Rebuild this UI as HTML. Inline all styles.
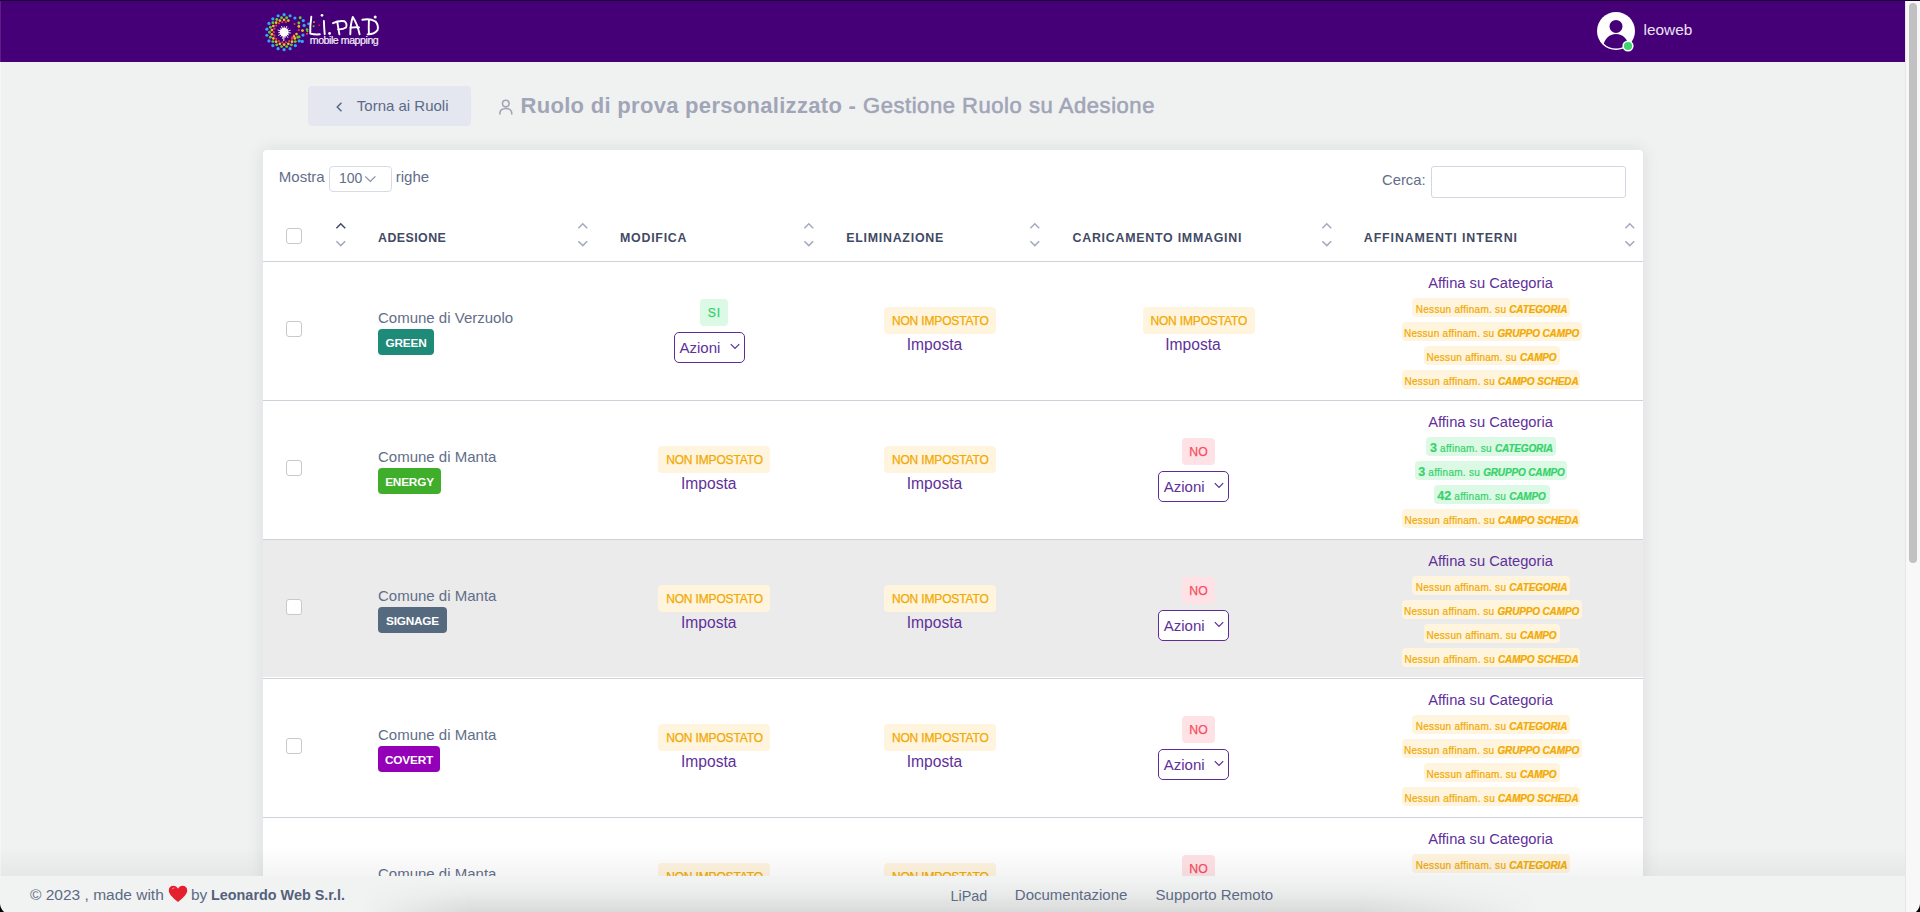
<!DOCTYPE html>
<html><head><meta charset="utf-8"><title>LiPad</title>
<style>
html,body{margin:0;padding:0;width:1920px;height:912px;overflow:hidden;background:#f0f2f1;font-family:"Liberation Sans", sans-serif;}
.t{position:absolute;white-space:nowrap;}
.r{position:absolute;box-sizing:border-box;}
svg{position:absolute;}
</style></head><body>

<div class="r" style="left:0px;top:0px;width:1905px;height:62px;background:#450078;border-radius:0px;"></div>
<div class="r" style="left:0px;top:0px;width:1905px;height:1px;background:#1e0038;border-radius:0px;"></div>
<svg style="left:0;top:0" width="400" height="62" viewBox="0 0 400 62"><circle cx="293.78" cy="35.72" r="1.1" fill="#ee3d3d"/><circle cx="291.99" cy="38.82" r="1.1" fill="#ee3d3d"/><circle cx="289.25" cy="41.12" r="1.1" fill="#ee3d3d"/><circle cx="285.89" cy="42.34" r="1.1" fill="#ee3d3d"/><circle cx="282.31" cy="42.34" r="1.1" fill="#ee3d3d"/><circle cx="278.95" cy="41.12" r="1.1" fill="#ee3d3d"/><circle cx="276.21" cy="38.82" r="1.1" fill="#ee3d3d"/><circle cx="274.42" cy="35.72" r="1.1" fill="#ee3d3d"/><circle cx="273.80" cy="32.20" r="1.1" fill="#ee3d3d"/><circle cx="274.42" cy="28.68" r="1.1" fill="#ee3d3d"/><circle cx="276.21" cy="25.58" r="1.1" fill="#ee3d3d"/><circle cx="278.95" cy="23.28" r="1.1" fill="#ee3d3d"/><circle cx="282.31" cy="22.06" r="1.1" fill="#ee3d3d"/><circle cx="285.89" cy="22.06" r="1.1" fill="#ee3d3d"/><circle cx="294.84" cy="38.40" r="1.35" fill="#f2c11a"/><circle cx="292.07" cy="41.70" r="1.35" fill="#f2c11a"/><circle cx="288.34" cy="43.85" r="1.35" fill="#f2c11a"/><circle cx="284.10" cy="44.60" r="1.35" fill="#f2c11a"/><circle cx="279.86" cy="43.85" r="1.35" fill="#f2c11a"/><circle cx="276.13" cy="41.70" r="1.35" fill="#f2c11a"/><circle cx="273.36" cy="38.40" r="1.35" fill="#f2c11a"/><circle cx="271.89" cy="34.35" r="1.35" fill="#f2c11a"/><circle cx="271.89" cy="30.05" r="1.35" fill="#f2c11a"/><circle cx="273.36" cy="26.00" r="1.35" fill="#f2c11a"/><circle cx="276.13" cy="22.70" r="1.35" fill="#f2c11a"/><circle cx="279.86" cy="20.55" r="1.35" fill="#f2c11a"/><circle cx="284.10" cy="19.80" r="1.35" fill="#f2c11a"/><circle cx="288.34" cy="20.55" r="1.35" fill="#f2c11a"/><circle cx="297.82" cy="37.19" r="1.45" fill="#63cc2c"/><circle cx="295.28" cy="41.58" r="1.45" fill="#63cc2c"/><circle cx="291.40" cy="44.84" r="1.45" fill="#63cc2c"/><circle cx="286.64" cy="46.58" r="1.45" fill="#63cc2c"/><circle cx="281.56" cy="46.58" r="1.45" fill="#63cc2c"/><circle cx="276.80" cy="44.84" r="1.45" fill="#63cc2c"/><circle cx="272.92" cy="41.58" r="1.45" fill="#63cc2c"/><circle cx="270.38" cy="37.19" r="1.45" fill="#63cc2c"/><circle cx="269.50" cy="32.20" r="1.45" fill="#63cc2c"/><circle cx="270.38" cy="27.21" r="1.45" fill="#63cc2c"/><circle cx="272.92" cy="22.82" r="1.45" fill="#63cc2c"/><circle cx="276.80" cy="19.56" r="1.45" fill="#63cc2c"/><circle cx="281.56" cy="17.82" r="1.45" fill="#63cc2c"/><circle cx="286.64" cy="17.82" r="1.45" fill="#63cc2c"/><circle cx="299.26" cy="40.95" r="1.6" fill="#35a6f2"/><circle cx="295.35" cy="45.61" r="1.6" fill="#35a6f2"/><circle cx="290.09" cy="48.64" r="1.6" fill="#35a6f2"/><circle cx="284.10" cy="49.70" r="1.6" fill="#35a6f2"/><circle cx="278.11" cy="48.64" r="1.6" fill="#35a6f2"/><circle cx="272.85" cy="45.61" r="1.6" fill="#35a6f2"/><circle cx="268.94" cy="40.95" r="1.6" fill="#35a6f2"/><circle cx="266.87" cy="35.24" r="1.6" fill="#35a6f2"/><circle cx="266.87" cy="29.16" r="1.6" fill="#35a6f2"/><circle cx="268.94" cy="23.45" r="1.6" fill="#35a6f2"/><circle cx="272.85" cy="18.79" r="1.6" fill="#35a6f2"/><circle cx="278.11" cy="15.76" r="1.6" fill="#35a6f2"/><circle cx="284.10" cy="14.70" r="1.6" fill="#35a6f2"/><circle cx="290.09" cy="15.76" r="1.6" fill="#35a6f2"/><circle cx="298.8" cy="23.0" r="1.45" fill="#63cc2c"/><circle cx="300.2" cy="17.7" r="1.45" fill="#63cc2c"/><circle cx="307" cy="29.6" r="1.3" fill="#63cc2c"/><circle cx="299.1" cy="36.9" r="1.45" fill="#63cc2c"/><circle cx="298.8" cy="26.4" r="1.35" fill="#f2c11a"/><circle cx="302.5" cy="30.6" r="1.35" fill="#f2c11a"/><circle cx="296.5" cy="34.1" r="1.3" fill="#f2c11a"/><circle cx="294.1" cy="36.4" r="1.2" fill="#f2c11a"/><circle cx="298.8" cy="30.1" r="1.1" fill="#ee3d3d"/><circle cx="307" cy="33.8" r="1.1" fill="#ee3d3d"/><circle cx="294.5" cy="24.0" r="1.0" fill="#ee3d3d"/><circle cx="292.2" cy="37.3" r="1.0" fill="#ee3d3d"/><circle cx="303.3" cy="20.6" r="1.6" fill="#35a6f2"/><circle cx="304.1" cy="25.4" r="1.6" fill="#35a6f2"/><circle cx="303" cy="35.1" r="1.6" fill="#35a6f2"/><circle cx="302.3" cy="41.4" r="1.6" fill="#35a6f2"/><circle cx="308.6" cy="23.8" r="1.4" fill="#35a6f2"/><circle cx="294.9" cy="18" r="1.6" fill="#35a6f2"/><circle cx="314.0" cy="22.1" r="0.9" fill="#f2c11a"/><circle cx="313.6" cy="26.3" r="1.0" fill="#63cc2c"/><circle cx="307.4" cy="31.3" r="1.0" fill="#63cc2c"/><circle cx="319.2" cy="25.2" r="0.8" fill="#ee3d3d"/><line x1="284.10" y1="32.20" x2="290.85" y2="33.03" stroke="#fff" stroke-width="0.9"/><line x1="284.10" y1="32.20" x2="289.07" y2="35.19" stroke="#fff" stroke-width="0.9"/><line x1="284.10" y1="32.20" x2="288.00" y2="37.77" stroke="#fff" stroke-width="0.9"/><line x1="284.10" y1="32.20" x2="285.21" y2="37.89" stroke="#fff" stroke-width="0.9"/><line x1="284.10" y1="32.20" x2="282.57" y2="38.83" stroke="#fff" stroke-width="0.9"/><line x1="284.10" y1="32.20" x2="280.61" y2="36.83" stroke="#fff" stroke-width="0.9"/><line x1="284.10" y1="32.20" x2="278.15" y2="35.50" stroke="#fff" stroke-width="0.9"/><line x1="284.10" y1="32.20" x2="278.32" y2="32.71" stroke="#fff" stroke-width="0.9"/><line x1="284.10" y1="32.20" x2="277.67" y2="29.99" stroke="#fff" stroke-width="0.9"/><line x1="284.10" y1="32.20" x2="279.86" y2="28.24" stroke="#fff" stroke-width="0.9"/><line x1="284.10" y1="32.20" x2="281.44" y2="25.94" stroke="#fff" stroke-width="0.9"/><line x1="284.10" y1="32.20" x2="284.20" y2="26.40" stroke="#fff" stroke-width="0.9"/><line x1="284.10" y1="32.20" x2="286.97" y2="26.04" stroke="#fff" stroke-width="0.9"/><line x1="284.10" y1="32.20" x2="288.48" y2="28.39" stroke="#fff" stroke-width="0.9"/><line x1="284.10" y1="32.20" x2="290.60" y2="30.21" stroke="#fff" stroke-width="0.9"/><line x1="284.10" y1="32.20" x2="283.80" y2="41.00" stroke="#fff" stroke-width="1"/><circle cx="284.1" cy="32.2" r="4.4" fill="#fff"/><g stroke="#fff" stroke-width="1.9" fill="none" stroke-linecap="round" stroke-linejoin="round"><path d="M311.3 16.8 Q310 26 310.3 33.6 Q315 34.8 319.8 34.3"/><path d="M323.9 21 Q324.1 28 324.7 34.2"/><path d="M333 23.2 Q339 20.3 344.5 21.2 Q347.5 23.5 346 27.5 Q343 29.6 338.2 29.4"/><path d="M337.2 21.6 Q338.3 28 339.4 34.3"/><path d="M350.3 34.3 Q350.4 24 352.8 16.9 Q357.5 24 359.6 34.3"/><path d="M350.6 27.6 Q355 27.1 359 27.4"/><path d="M362.3 19.8 Q370 18.2 375.5 21.5 Q379 25.5 377.5 30.2 Q374 34.6 367.6 34.4"/><path d="M368.9 19.6 Q368.6 27 368.9 34.3"/></g><circle cx="322" cy="15.3" r="1.35" fill="#fff"/><circle cx="329.6" cy="33.5" r="1.4" fill="#fff"/><circle cx="375.2" cy="17" r="1.5" fill="#fff"/></svg>
<div class="t" style="left:309.80px;top:35.11px;font-size:10.6px;line-height:11.84px;color:#f3eefa;font-weight:400;font-style:normal;letter-spacing:-0.45px;-webkit-text-stroke:0.2px #f3eefa;">mobile mapping</div>
<svg style="left:1596px;top:11px" width="44" height="44" viewBox="0 0 44 44"><defs><clipPath id="cc"><circle cx="20" cy="20" r="17.6"/></clipPath></defs><circle cx="20" cy="20" r="19" fill="#fff"/><g clip-path="url(#cc)"><circle cx="20" cy="15.4" r="6.5" fill="#450078"/><ellipse cx="20" cy="35.5" rx="12.5" ry="12.5" fill="#450078"/></g><circle cx="32" cy="35" r="5.6" fill="#fff"/><circle cx="32" cy="35" r="4.1" fill="#3fd46b"/></svg>
<div class="t" style="left:1643.50px;top:20.96px;font-size:15.4px;line-height:17.20px;color:#ebe4f3;font-weight:400;font-style:normal;letter-spacing:0px;">leoweb</div>
<div class="r" style="left:308px;top:86px;width:163px;height:40px;background:#e4e7ef;border-radius:4px;"></div>
<svg style="left:332px;top:100px" width="14" height="14" viewBox="0 0 14 14"><path d="M9 3.2 L5.2 7 L9 10.8" stroke="#5b6a88" stroke-width="1.6" fill="none" stroke-linecap="round" stroke-linejoin="round"/></svg>
<div class="t" style="left:356.80px;top:98.22px;font-size:15px;line-height:16.75px;color:#5b6a88;font-weight:400;font-style:normal;letter-spacing:0px;">Torna ai Ruoli</div>
<svg style="left:497px;top:98px" width="18" height="18" viewBox="0 0 18 18"><circle cx="8.8" cy="5.6" r="3.3" stroke="#a1a5b7" stroke-width="1.6" fill="none"/><path d="M2.8 16 Q2.8 10.5 8.8 10.5 Q14.8 10.5 14.8 16" stroke="#a1a5b7" stroke-width="1.6" fill="none" stroke-linecap="round"/></svg>
<div class="t" style="left:520.50px;top:93.89px;font-size:22px;line-height:24.57px;color:#a1a5b7;font-weight:700;font-style:normal;letter-spacing:0.3px;">Ruolo di prova personalizzato</div>
<div class="t" style="left:848.50px;top:93.89px;font-size:22px;line-height:24.57px;color:#a1a5b7;font-weight:700;font-style:normal;letter-spacing:0px;">-</div>
<div class="t" style="left:863.00px;top:93.89px;font-size:22px;line-height:24.57px;color:#a1a5b7;font-weight:400;font-style:normal;letter-spacing:0.55px;-webkit-text-stroke:0.6px #a1a5b7;">Gestione Ruolo su Adesione</div>
<div class="r" style="left:263px;top:150px;width:1380px;height:900px;background:#fff;border-radius:4px;box-shadow:0 0 16px 1px rgba(60,50,90,0.10);"></div>
<div class="t" style="left:278.80px;top:169.43px;font-size:15px;line-height:16.75px;color:#626e89;font-weight:400;font-style:normal;letter-spacing:0px;">Mostra</div>
<div class="r" style="left:329px;top:166px;width:63px;height:26px;background:#fff;border-radius:4px;border:1px solid #d8dbe3;"></div>
<div class="t" style="left:339.00px;top:171.03px;font-size:14px;line-height:15.64px;color:#626e89;font-weight:400;font-style:normal;letter-spacing:0px;">100</div>
<svg style="left:364px;top:174px" width="13" height="10" viewBox="0 0 13 10"><path d="M1.2 2.3 L6.3 7.4 L11.4 2.3" stroke="#858ea3" stroke-width="1.2" fill="none"/></svg>
<div class="t" style="left:395.80px;top:169.43px;font-size:15px;line-height:16.75px;color:#626e89;font-weight:400;font-style:normal;letter-spacing:0px;">righe</div>
<div class="t" style="left:1382.00px;top:172.31px;font-size:14.8px;line-height:16.53px;color:#626e89;font-weight:400;font-style:normal;letter-spacing:0px;">Cerca:</div>
<div class="r" style="left:1431px;top:166px;width:195px;height:32px;background:#fff;border-radius:3px;border:1px solid #d5d6e2;"></div>
<div class="r" style="left:286px;top:228px;width:16px;height:16px;background:#fff;border-radius:3px;border:1px solid #c9c9c9;"></div>
<svg style="left:334.5px;top:221px" width="12" height="27" viewBox="0 0 12 27"><path d="M1.4 7.2 L5.8 2.8 L10.2 7.2" stroke="#3f4a65" stroke-width="1.5" fill="none"/><path d="M1.4 20.2 L5.8 24.6 L10.2 20.2" stroke="#a3aabd" stroke-width="1.5" fill="none"/></svg>
<svg style="left:577.0px;top:221px" width="12" height="27" viewBox="0 0 12 27"><path d="M1.4 7.2 L5.8 2.8 L10.2 7.2" stroke="#a3aabd" stroke-width="1.5" fill="none"/><path d="M1.4 20.2 L5.8 24.6 L10.2 20.2" stroke="#a3aabd" stroke-width="1.5" fill="none"/></svg>
<svg style="left:802.5px;top:221px" width="12" height="27" viewBox="0 0 12 27"><path d="M1.4 7.2 L5.8 2.8 L10.2 7.2" stroke="#a3aabd" stroke-width="1.5" fill="none"/><path d="M1.4 20.2 L5.8 24.6 L10.2 20.2" stroke="#a3aabd" stroke-width="1.5" fill="none"/></svg>
<svg style="left:1029.0px;top:221px" width="12" height="27" viewBox="0 0 12 27"><path d="M1.4 7.2 L5.8 2.8 L10.2 7.2" stroke="#a3aabd" stroke-width="1.5" fill="none"/><path d="M1.4 20.2 L5.8 24.6 L10.2 20.2" stroke="#a3aabd" stroke-width="1.5" fill="none"/></svg>
<svg style="left:1320.5px;top:221px" width="12" height="27" viewBox="0 0 12 27"><path d="M1.4 7.2 L5.8 2.8 L10.2 7.2" stroke="#a3aabd" stroke-width="1.5" fill="none"/><path d="M1.4 20.2 L5.8 24.6 L10.2 20.2" stroke="#a3aabd" stroke-width="1.5" fill="none"/></svg>
<svg style="left:1623.5px;top:221px" width="12" height="27" viewBox="0 0 12 27"><path d="M1.4 7.2 L5.8 2.8 L10.2 7.2" stroke="#a3aabd" stroke-width="1.5" fill="none"/><path d="M1.4 20.2 L5.8 24.6 L10.2 20.2" stroke="#a3aabd" stroke-width="1.5" fill="none"/></svg>
<div class="t" style="left:378.00px;top:231.88px;font-size:12.4px;line-height:13.85px;color:#3f4a65;font-weight:700;font-style:normal;letter-spacing:0.45px;">ADESIONE</div>
<div class="t" style="left:620.00px;top:231.88px;font-size:12.4px;line-height:13.85px;color:#3f4a65;font-weight:700;font-style:normal;letter-spacing:0.75px;">MODIFICA</div>
<div class="t" style="left:846.20px;top:231.88px;font-size:12.4px;line-height:13.85px;color:#3f4a65;font-weight:700;font-style:normal;letter-spacing:0.75px;">ELIMINAZIONE</div>
<div class="t" style="left:1072.50px;top:231.88px;font-size:12.4px;line-height:13.85px;color:#3f4a65;font-weight:700;font-style:normal;letter-spacing:0.75px;">CARICAMENTO IMMAGINI</div>
<div class="t" style="left:1363.80px;top:231.88px;font-size:12.4px;line-height:13.85px;color:#3f4a65;font-weight:700;font-style:normal;letter-spacing:0.9px;">AFFINAMENTI INTERNI</div>
<div class="r" style="left:263px;top:261px;width:1380px;height:1px;background:#cfd2db;border-radius:0px;"></div>
<div class="r" style="left:263px;top:400px;width:1380px;height:1px;background:#cfd2db;border-radius:0px;"></div>
<div class="r" style="left:286px;top:321px;width:16px;height:16px;background:#fff;border-radius:3px;border:1px solid #c9c9c9;"></div>
<div class="t" style="left:378.00px;top:310.12px;font-size:15px;line-height:16.75px;color:#626e89;font-weight:400;font-style:normal;letter-spacing:0px;">Comune di Verzuolo</div>
<div class="r" style="left:378px;top:329px;width:56px;height:26px;background:#1e8a78;border-radius:4px;"></div>
<div class="t" style="left:6.00px;width:800px;text-align:center;top:336.92px;font-size:11.8px;line-height:13.18px;color:#fff;font-weight:700;font-style:normal;letter-spacing:-0.2px;">GREEN</div>
<div class="r" style="left:700.0px;top:299px;width:28px;height:27px;background:#dcf9e6;border-radius:4px;"></div><div class="t" style="left:314.40px;width:800px;text-align:center;top:306.76px;font-size:12.2px;line-height:13.63px;color:#36d26a;font-weight:500;font-style:normal;letter-spacing:0.8px;-webkit-text-stroke:0.25px #36d26a;">SI</div>
<div class="r" style="left:674.0px;top:332px;width:71px;height:31px;background:#fff;border-radius:5px;border:1.3px solid #5c2d96;"></div><div class="t" style="left:679.50px;top:340.43px;font-size:15px;line-height:16.75px;color:#60309a;font-weight:400;font-style:normal;letter-spacing:0px;">Azioni</div><svg style="left:729.0px;top:342px" width="12" height="10" viewBox="0 0 12 10"><path d="M1.8 2.2 L6 6.4 L10.2 2.2" stroke="#5c2d96" stroke-width="1.2" fill="none"/></svg>
<div class="r" style="left:884px;top:307px;width:112px;height:27px;background:#fff4de;border-radius:4px;"></div><div class="t" style="left:540.25px;width:800px;text-align:center;top:314.94px;font-size:12px;line-height:13.40px;color:#f2a900;font-weight:500;font-style:normal;letter-spacing:-0.15px;-webkit-text-stroke:0.25px #f2a900;">NON IMPOSTATO</div>
<div class="t" style="left:534.50px;width:800px;text-align:center;top:335.78px;font-size:15.6px;line-height:17.43px;color:#60309a;font-weight:400;font-style:normal;letter-spacing:0px;">Imposta</div>
<div class="r" style="left:1143px;top:307px;width:112px;height:27px;background:#fff4de;border-radius:4px;"></div><div class="t" style="left:798.75px;width:800px;text-align:center;top:314.94px;font-size:12px;line-height:13.40px;color:#f2a900;font-weight:500;font-style:normal;letter-spacing:-0.15px;-webkit-text-stroke:0.25px #f2a900;">NON IMPOSTATO</div>
<div class="t" style="left:793.00px;width:800px;text-align:center;top:335.78px;font-size:15.6px;line-height:17.43px;color:#60309a;font-weight:400;font-style:normal;letter-spacing:0px;">Imposta</div>
<div class="t" style="left:1090.50px;width:800px;text-align:center;top:275.20px;font-size:14.7px;line-height:16.42px;color:#60309a;font-weight:400;font-style:normal;letter-spacing:0px;">Affina su Categoria</div>
<div class="r" style="left:1412px;top:298px;width:158px;height:18.5px;background:#fff4de;border-radius:4px;"></div><div class="t" style="left:1091.50px;width:800px;text-align:center;top:303.55px;font-size:10.0px;line-height:11.17px;color:#f2a900;font-weight:500;font-style:normal;letter-spacing:0.28px;-webkit-text-stroke:0.2px #f2a900;">Nessun affinam. su <b style="letter-spacing:-0.15px"><i>CATEGORIA</i></b></div>
<div class="r" style="left:1402px;top:322px;width:180px;height:18.5px;background:#fff4de;border-radius:4px;"></div><div class="t" style="left:1091.50px;width:800px;text-align:center;top:327.55px;font-size:10.0px;line-height:11.17px;color:#f2a900;font-weight:500;font-style:normal;letter-spacing:0.28px;-webkit-text-stroke:0.2px #f2a900;">Nessun affinam. su <b style="letter-spacing:-0.15px"><i>GRUPPO CAMPO</i></b></div>
<div class="r" style="left:1424px;top:346px;width:136px;height:18.5px;background:#fff4de;border-radius:4px;"></div><div class="t" style="left:1091.50px;width:800px;text-align:center;top:351.55px;font-size:10.0px;line-height:11.17px;color:#f2a900;font-weight:500;font-style:normal;letter-spacing:0.28px;-webkit-text-stroke:0.2px #f2a900;">Nessun affinam. su <b style="letter-spacing:-0.15px"><i>CAMPO</i></b></div>
<div class="r" style="left:1402px;top:370px;width:178px;height:18.5px;background:#fff4de;border-radius:4px;"></div><div class="t" style="left:1091.50px;width:800px;text-align:center;top:375.55px;font-size:10.0px;line-height:11.17px;color:#f2a900;font-weight:500;font-style:normal;letter-spacing:0.28px;-webkit-text-stroke:0.2px #f2a900;">Nessun affinam. su <b style="letter-spacing:-0.15px"><i>CAMPO SCHEDA</i></b></div>
<div class="r" style="left:263px;top:539px;width:1380px;height:1px;background:#cfd2db;border-radius:0px;"></div>
<div class="r" style="left:286px;top:460px;width:16px;height:16px;background:#fff;border-radius:3px;border:1px solid #c9c9c9;"></div>
<div class="t" style="left:378.00px;top:449.12px;font-size:15px;line-height:16.75px;color:#626e89;font-weight:400;font-style:normal;letter-spacing:0px;">Comune di Manta</div>
<div class="r" style="left:378px;top:468px;width:63px;height:26px;background:#3fae2a;border-radius:4px;"></div>
<div class="t" style="left:9.50px;width:800px;text-align:center;top:475.92px;font-size:11.8px;line-height:13.18px;color:#fff;font-weight:700;font-style:normal;letter-spacing:-0.2px;">ENERGY</div>
<div class="r" style="left:658px;top:446px;width:112px;height:27px;background:#fff4de;border-radius:4px;"></div><div class="t" style="left:314.50px;width:800px;text-align:center;top:453.94px;font-size:12px;line-height:13.40px;color:#f2a900;font-weight:500;font-style:normal;letter-spacing:-0.15px;-webkit-text-stroke:0.25px #f2a900;">NON IMPOSTATO</div>
<div class="t" style="left:308.75px;width:800px;text-align:center;top:474.78px;font-size:15.6px;line-height:17.43px;color:#60309a;font-weight:400;font-style:normal;letter-spacing:0px;">Imposta</div>
<div class="r" style="left:884px;top:446px;width:112px;height:27px;background:#fff4de;border-radius:4px;"></div><div class="t" style="left:540.25px;width:800px;text-align:center;top:453.94px;font-size:12px;line-height:13.40px;color:#f2a900;font-weight:500;font-style:normal;letter-spacing:-0.15px;-webkit-text-stroke:0.25px #f2a900;">NON IMPOSTATO</div>
<div class="t" style="left:534.50px;width:800px;text-align:center;top:474.78px;font-size:15.6px;line-height:17.43px;color:#60309a;font-weight:400;font-style:normal;letter-spacing:0px;">Imposta</div>
<div class="r" style="left:1182.0px;top:438px;width:33px;height:27px;background:#ffe2e5;border-radius:4px;"></div><div class="t" style="left:798.50px;width:800px;text-align:center;top:445.76px;font-size:12.2px;line-height:13.63px;color:#f64e60;font-weight:500;font-style:normal;letter-spacing:0px;-webkit-text-stroke:0.25px #f64e60;">NO</div>
<div class="r" style="left:1158.25px;top:471px;width:71px;height:31px;background:#fff;border-radius:5px;border:1.3px solid #5c2d96;"></div><div class="t" style="left:1163.75px;top:479.43px;font-size:15px;line-height:16.75px;color:#60309a;font-weight:400;font-style:normal;letter-spacing:0px;">Azioni</div><svg style="left:1213.25px;top:481px" width="12" height="10" viewBox="0 0 12 10"><path d="M1.8 2.2 L6 6.4 L10.2 2.2" stroke="#5c2d96" stroke-width="1.2" fill="none"/></svg>
<div class="t" style="left:1090.50px;width:800px;text-align:center;top:414.20px;font-size:14.7px;line-height:16.42px;color:#60309a;font-weight:400;font-style:normal;letter-spacing:0px;">Affina su Categoria</div>
<div class="r" style="left:1426px;top:437px;width:130px;height:18.5px;background:#dcf9e6;border-radius:4px;"></div><div class="t" style="left:1091.50px;width:800px;text-align:center;top:442.55px;font-size:10.0px;line-height:11.17px;color:#36d26a;font-weight:500;font-style:normal;letter-spacing:0.28px;-webkit-text-stroke:0.2px #36d26a;"><b style="font-size:12.5px;font-weight:700;letter-spacing:0">3</b> affinam. su <b style="letter-spacing:-0.15px"><i>CATEGORIA</i></b></div>
<div class="r" style="left:1415px;top:461px;width:152px;height:18.5px;background:#dcf9e6;border-radius:4px;"></div><div class="t" style="left:1091.50px;width:800px;text-align:center;top:466.55px;font-size:10.0px;line-height:11.17px;color:#36d26a;font-weight:500;font-style:normal;letter-spacing:0.28px;-webkit-text-stroke:0.2px #36d26a;"><b style="font-size:12.5px;font-weight:700;letter-spacing:0">3</b> affinam. su <b style="letter-spacing:-0.15px"><i>GRUPPO CAMPO</i></b></div>
<div class="r" style="left:1434px;top:485px;width:116px;height:18.5px;background:#dcf9e6;border-radius:4px;"></div><div class="t" style="left:1091.50px;width:800px;text-align:center;top:490.55px;font-size:10.0px;line-height:11.17px;color:#36d26a;font-weight:500;font-style:normal;letter-spacing:0.28px;-webkit-text-stroke:0.2px #36d26a;"><b style="font-size:12.5px;font-weight:700;letter-spacing:0">42</b> affinam. su <b style="letter-spacing:-0.15px"><i>CAMPO</i></b></div>
<div class="r" style="left:1402px;top:509px;width:178px;height:18.5px;background:#fff4de;border-radius:4px;"></div><div class="t" style="left:1091.50px;width:800px;text-align:center;top:514.55px;font-size:10.0px;line-height:11.17px;color:#f2a900;font-weight:500;font-style:normal;letter-spacing:0.28px;-webkit-text-stroke:0.2px #f2a900;">Nessun affinam. su <b style="letter-spacing:-0.15px"><i>CAMPO SCHEDA</i></b></div>
<div class="r" style="left:263px;top:540px;width:1380px;height:137px;background:#ebebeb;border-radius:0px;"></div>
<div class="r" style="left:263px;top:678px;width:1380px;height:1px;background:#cfd2db;border-radius:0px;"></div>
<div class="r" style="left:286px;top:599px;width:16px;height:16px;background:#fff;border-radius:3px;border:1px solid #c9c9c9;"></div>
<div class="t" style="left:378.00px;top:588.12px;font-size:15px;line-height:16.75px;color:#626e89;font-weight:400;font-style:normal;letter-spacing:0px;">Comune di Manta</div>
<div class="r" style="left:378px;top:607px;width:69px;height:26px;background:#556a7f;border-radius:4px;"></div>
<div class="t" style="left:12.50px;width:800px;text-align:center;top:614.92px;font-size:11.8px;line-height:13.18px;color:#fff;font-weight:700;font-style:normal;letter-spacing:-0.2px;">SIGNAGE</div>
<div class="r" style="left:658px;top:585px;width:112px;height:27px;background:#fff4de;border-radius:4px;"></div><div class="t" style="left:314.50px;width:800px;text-align:center;top:592.94px;font-size:12px;line-height:13.40px;color:#f2a900;font-weight:500;font-style:normal;letter-spacing:-0.15px;-webkit-text-stroke:0.25px #f2a900;">NON IMPOSTATO</div>
<div class="t" style="left:308.75px;width:800px;text-align:center;top:613.78px;font-size:15.6px;line-height:17.43px;color:#60309a;font-weight:400;font-style:normal;letter-spacing:0px;">Imposta</div>
<div class="r" style="left:884px;top:585px;width:112px;height:27px;background:#fff4de;border-radius:4px;"></div><div class="t" style="left:540.25px;width:800px;text-align:center;top:592.94px;font-size:12px;line-height:13.40px;color:#f2a900;font-weight:500;font-style:normal;letter-spacing:-0.15px;-webkit-text-stroke:0.25px #f2a900;">NON IMPOSTATO</div>
<div class="t" style="left:534.50px;width:800px;text-align:center;top:613.78px;font-size:15.6px;line-height:17.43px;color:#60309a;font-weight:400;font-style:normal;letter-spacing:0px;">Imposta</div>
<div class="r" style="left:1182.0px;top:577px;width:33px;height:27px;background:#ffe2e5;border-radius:4px;"></div><div class="t" style="left:798.50px;width:800px;text-align:center;top:584.76px;font-size:12.2px;line-height:13.63px;color:#f64e60;font-weight:500;font-style:normal;letter-spacing:0px;-webkit-text-stroke:0.25px #f64e60;">NO</div>
<div class="r" style="left:1158.25px;top:610px;width:71px;height:31px;background:#fff;border-radius:5px;border:1.3px solid #5c2d96;"></div><div class="t" style="left:1163.75px;top:618.42px;font-size:15px;line-height:16.75px;color:#60309a;font-weight:400;font-style:normal;letter-spacing:0px;">Azioni</div><svg style="left:1213.25px;top:620px" width="12" height="10" viewBox="0 0 12 10"><path d="M1.8 2.2 L6 6.4 L10.2 2.2" stroke="#5c2d96" stroke-width="1.2" fill="none"/></svg>
<div class="t" style="left:1090.50px;width:800px;text-align:center;top:553.20px;font-size:14.7px;line-height:16.42px;color:#60309a;font-weight:400;font-style:normal;letter-spacing:0px;">Affina su Categoria</div>
<div class="r" style="left:1412px;top:576px;width:158px;height:18.5px;background:#fff4de;border-radius:4px;"></div><div class="t" style="left:1091.50px;width:800px;text-align:center;top:581.55px;font-size:10.0px;line-height:11.17px;color:#f2a900;font-weight:500;font-style:normal;letter-spacing:0.28px;-webkit-text-stroke:0.2px #f2a900;">Nessun affinam. su <b style="letter-spacing:-0.15px"><i>CATEGORIA</i></b></div>
<div class="r" style="left:1402px;top:600px;width:180px;height:18.5px;background:#fff4de;border-radius:4px;"></div><div class="t" style="left:1091.50px;width:800px;text-align:center;top:605.55px;font-size:10.0px;line-height:11.17px;color:#f2a900;font-weight:500;font-style:normal;letter-spacing:0.28px;-webkit-text-stroke:0.2px #f2a900;">Nessun affinam. su <b style="letter-spacing:-0.15px"><i>GRUPPO CAMPO</i></b></div>
<div class="r" style="left:1424px;top:624px;width:136px;height:18.5px;background:#fff4de;border-radius:4px;"></div><div class="t" style="left:1091.50px;width:800px;text-align:center;top:629.55px;font-size:10.0px;line-height:11.17px;color:#f2a900;font-weight:500;font-style:normal;letter-spacing:0.28px;-webkit-text-stroke:0.2px #f2a900;">Nessun affinam. su <b style="letter-spacing:-0.15px"><i>CAMPO</i></b></div>
<div class="r" style="left:1402px;top:648px;width:178px;height:18.5px;background:#fff4de;border-radius:4px;"></div><div class="t" style="left:1091.50px;width:800px;text-align:center;top:653.55px;font-size:10.0px;line-height:11.17px;color:#f2a900;font-weight:500;font-style:normal;letter-spacing:0.28px;-webkit-text-stroke:0.2px #f2a900;">Nessun affinam. su <b style="letter-spacing:-0.15px"><i>CAMPO SCHEDA</i></b></div>
<div class="r" style="left:263px;top:817px;width:1380px;height:1px;background:#cfd2db;border-radius:0px;"></div>
<div class="r" style="left:286px;top:738px;width:16px;height:16px;background:#fff;border-radius:3px;border:1px solid #c9c9c9;"></div>
<div class="t" style="left:378.00px;top:727.12px;font-size:15px;line-height:16.75px;color:#626e89;font-weight:400;font-style:normal;letter-spacing:0px;">Comune di Manta</div>
<div class="r" style="left:378px;top:746px;width:62px;height:26px;background:#9300b8;border-radius:4px;"></div>
<div class="t" style="left:9.00px;width:800px;text-align:center;top:753.92px;font-size:11.8px;line-height:13.18px;color:#fff;font-weight:700;font-style:normal;letter-spacing:-0.2px;">COVERT</div>
<div class="r" style="left:658px;top:724px;width:112px;height:27px;background:#fff4de;border-radius:4px;"></div><div class="t" style="left:314.50px;width:800px;text-align:center;top:731.94px;font-size:12px;line-height:13.40px;color:#f2a900;font-weight:500;font-style:normal;letter-spacing:-0.15px;-webkit-text-stroke:0.25px #f2a900;">NON IMPOSTATO</div>
<div class="t" style="left:308.75px;width:800px;text-align:center;top:752.78px;font-size:15.6px;line-height:17.43px;color:#60309a;font-weight:400;font-style:normal;letter-spacing:0px;">Imposta</div>
<div class="r" style="left:884px;top:724px;width:112px;height:27px;background:#fff4de;border-radius:4px;"></div><div class="t" style="left:540.25px;width:800px;text-align:center;top:731.94px;font-size:12px;line-height:13.40px;color:#f2a900;font-weight:500;font-style:normal;letter-spacing:-0.15px;-webkit-text-stroke:0.25px #f2a900;">NON IMPOSTATO</div>
<div class="t" style="left:534.50px;width:800px;text-align:center;top:752.78px;font-size:15.6px;line-height:17.43px;color:#60309a;font-weight:400;font-style:normal;letter-spacing:0px;">Imposta</div>
<div class="r" style="left:1182.0px;top:716px;width:33px;height:27px;background:#ffe2e5;border-radius:4px;"></div><div class="t" style="left:798.50px;width:800px;text-align:center;top:723.76px;font-size:12.2px;line-height:13.63px;color:#f64e60;font-weight:500;font-style:normal;letter-spacing:0px;-webkit-text-stroke:0.25px #f64e60;">NO</div>
<div class="r" style="left:1158.25px;top:749px;width:71px;height:31px;background:#fff;border-radius:5px;border:1.3px solid #5c2d96;"></div><div class="t" style="left:1163.75px;top:757.42px;font-size:15px;line-height:16.75px;color:#60309a;font-weight:400;font-style:normal;letter-spacing:0px;">Azioni</div><svg style="left:1213.25px;top:759px" width="12" height="10" viewBox="0 0 12 10"><path d="M1.8 2.2 L6 6.4 L10.2 2.2" stroke="#5c2d96" stroke-width="1.2" fill="none"/></svg>
<div class="t" style="left:1090.50px;width:800px;text-align:center;top:692.20px;font-size:14.7px;line-height:16.42px;color:#60309a;font-weight:400;font-style:normal;letter-spacing:0px;">Affina su Categoria</div>
<div class="r" style="left:1412px;top:715px;width:158px;height:18.5px;background:#fff4de;border-radius:4px;"></div><div class="t" style="left:1091.50px;width:800px;text-align:center;top:720.55px;font-size:10.0px;line-height:11.17px;color:#f2a900;font-weight:500;font-style:normal;letter-spacing:0.28px;-webkit-text-stroke:0.2px #f2a900;">Nessun affinam. su <b style="letter-spacing:-0.15px"><i>CATEGORIA</i></b></div>
<div class="r" style="left:1402px;top:739px;width:180px;height:18.5px;background:#fff4de;border-radius:4px;"></div><div class="t" style="left:1091.50px;width:800px;text-align:center;top:744.55px;font-size:10.0px;line-height:11.17px;color:#f2a900;font-weight:500;font-style:normal;letter-spacing:0.28px;-webkit-text-stroke:0.2px #f2a900;">Nessun affinam. su <b style="letter-spacing:-0.15px"><i>GRUPPO CAMPO</i></b></div>
<div class="r" style="left:1424px;top:763px;width:136px;height:18.5px;background:#fff4de;border-radius:4px;"></div><div class="t" style="left:1091.50px;width:800px;text-align:center;top:768.55px;font-size:10.0px;line-height:11.17px;color:#f2a900;font-weight:500;font-style:normal;letter-spacing:0.28px;-webkit-text-stroke:0.2px #f2a900;">Nessun affinam. su <b style="letter-spacing:-0.15px"><i>CAMPO</i></b></div>
<div class="r" style="left:1402px;top:787px;width:178px;height:18.5px;background:#fff4de;border-radius:4px;"></div><div class="t" style="left:1091.50px;width:800px;text-align:center;top:792.55px;font-size:10.0px;line-height:11.17px;color:#f2a900;font-weight:500;font-style:normal;letter-spacing:0.28px;-webkit-text-stroke:0.2px #f2a900;">Nessun affinam. su <b style="letter-spacing:-0.15px"><i>CAMPO SCHEDA</i></b></div>
<div class="r" style="left:263px;top:956px;width:1380px;height:1px;background:#cfd2db;border-radius:0px;"></div>
<div class="r" style="left:286px;top:877px;width:16px;height:16px;background:#fff;border-radius:3px;border:1px solid #c9c9c9;"></div>
<div class="t" style="left:378.00px;top:866.12px;font-size:15px;line-height:16.75px;color:#626e89;font-weight:400;font-style:normal;letter-spacing:0px;">Comune di Manta</div>
<div class="r" style="left:378px;top:885px;width:69px;height:26px;background:#556a7f;border-radius:4px;"></div>
<div class="t" style="left:12.50px;width:800px;text-align:center;top:892.92px;font-size:11.8px;line-height:13.18px;color:#fff;font-weight:700;font-style:normal;letter-spacing:-0.2px;">SIGNAGE</div>
<div class="r" style="left:658px;top:863px;width:112px;height:27px;background:#fff4de;border-radius:4px;"></div><div class="t" style="left:314.50px;width:800px;text-align:center;top:870.94px;font-size:12px;line-height:13.40px;color:#f2a900;font-weight:500;font-style:normal;letter-spacing:-0.15px;-webkit-text-stroke:0.25px #f2a900;">NON IMPOSTATO</div>
<div class="t" style="left:308.75px;width:800px;text-align:center;top:891.78px;font-size:15.6px;line-height:17.43px;color:#60309a;font-weight:400;font-style:normal;letter-spacing:0px;">Imposta</div>
<div class="r" style="left:884px;top:863px;width:112px;height:27px;background:#fff4de;border-radius:4px;"></div><div class="t" style="left:540.25px;width:800px;text-align:center;top:870.94px;font-size:12px;line-height:13.40px;color:#f2a900;font-weight:500;font-style:normal;letter-spacing:-0.15px;-webkit-text-stroke:0.25px #f2a900;">NON IMPOSTATO</div>
<div class="t" style="left:534.50px;width:800px;text-align:center;top:891.78px;font-size:15.6px;line-height:17.43px;color:#60309a;font-weight:400;font-style:normal;letter-spacing:0px;">Imposta</div>
<div class="r" style="left:1182.0px;top:855px;width:33px;height:27px;background:#ffe2e5;border-radius:4px;"></div><div class="t" style="left:798.50px;width:800px;text-align:center;top:862.76px;font-size:12.2px;line-height:13.63px;color:#f64e60;font-weight:500;font-style:normal;letter-spacing:0px;-webkit-text-stroke:0.25px #f64e60;">NO</div>
<div class="r" style="left:1158.25px;top:888px;width:71px;height:31px;background:#fff;border-radius:5px;border:1.3px solid #5c2d96;"></div><div class="t" style="left:1163.75px;top:896.42px;font-size:15px;line-height:16.75px;color:#60309a;font-weight:400;font-style:normal;letter-spacing:0px;">Azioni</div><svg style="left:1213.25px;top:898px" width="12" height="10" viewBox="0 0 12 10"><path d="M1.8 2.2 L6 6.4 L10.2 2.2" stroke="#5c2d96" stroke-width="1.2" fill="none"/></svg>
<div class="t" style="left:1090.50px;width:800px;text-align:center;top:831.20px;font-size:14.7px;line-height:16.42px;color:#60309a;font-weight:400;font-style:normal;letter-spacing:0px;">Affina su Categoria</div>
<div class="r" style="left:1412px;top:854px;width:158px;height:18.5px;background:#fff4de;border-radius:4px;"></div><div class="t" style="left:1091.50px;width:800px;text-align:center;top:859.55px;font-size:10.0px;line-height:11.17px;color:#f2a900;font-weight:500;font-style:normal;letter-spacing:0.28px;-webkit-text-stroke:0.2px #f2a900;">Nessun affinam. su <b style="letter-spacing:-0.15px"><i>CATEGORIA</i></b></div>
<div class="r" style="left:1402px;top:878px;width:180px;height:18.5px;background:#fff4de;border-radius:4px;"></div><div class="t" style="left:1091.50px;width:800px;text-align:center;top:883.55px;font-size:10.0px;line-height:11.17px;color:#f2a900;font-weight:500;font-style:normal;letter-spacing:0.28px;-webkit-text-stroke:0.2px #f2a900;">Nessun affinam. su <b style="letter-spacing:-0.15px"><i>GRUPPO CAMPO</i></b></div>
<div class="r" style="left:1424px;top:902px;width:136px;height:18.5px;background:#fff4de;border-radius:4px;"></div><div class="t" style="left:1091.50px;width:800px;text-align:center;top:907.55px;font-size:10.0px;line-height:11.17px;color:#f2a900;font-weight:500;font-style:normal;letter-spacing:0.28px;-webkit-text-stroke:0.2px #f2a900;">Nessun affinam. su <b style="letter-spacing:-0.15px"><i>CAMPO</i></b></div>
<div class="r" style="left:1402px;top:926px;width:178px;height:18.5px;background:#fff4de;border-radius:4px;"></div><div class="t" style="left:1091.50px;width:800px;text-align:center;top:931.55px;font-size:10.0px;line-height:11.17px;color:#f2a900;font-weight:500;font-style:normal;letter-spacing:0.28px;-webkit-text-stroke:0.2px #f2a900;">Nessun affinam. su <b style="letter-spacing:-0.15px"><i>CAMPO SCHEDA</i></b></div>
<div class="r" style="left:0px;top:846px;width:1905px;height:30px;background:linear-gradient(rgba(40,40,60,0) 0%, rgba(40,40,60,0.05) 100%);border-radius:0px;"></div>
<div class="r" style="left:0px;top:876px;width:1905px;height:36px;background:#f1f3f2;border-radius:0px;"></div>
<div class="r" style="left:360px;top:880px;width:1180px;height:32px;background:linear-gradient(rgba(0,0,0,0) 0%, rgba(0,0,0,0.035) 50%, rgba(0,0,0,0.10) 100%);border-radius:0px;-webkit-mask-image:linear-gradient(to right, transparent 0, #000 110px, #000 1000px, transparent 100%);"></div>
<div class="t" style="left:30.00px;top:885.87px;font-size:15.5px;line-height:17.31px;color:#5e6a85;font-weight:400;font-style:normal;letter-spacing:0px;">&copy; 2023 , made with</div>
<svg style="left:168px;top:885px" width="20" height="18" viewBox="0 0 20 18"><path d="M10 17 C4 12 0.8 9 0.8 5.2 C0.8 2.5 3 0.8 5.3 0.8 C7.4 0.8 9 2 10 3.8 C11 2 12.6 0.8 14.7 0.8 C17 0.8 19.2 2.5 19.2 5.2 C19.2 9 16 12 10 17Z" fill="#e3202c"/><path d="M4 4 Q5 2.8 6.5 3" stroke="#ff8a8a" stroke-width="1" fill="none"/></svg>
<div class="t" style="left:191.00px;top:885.87px;font-size:15.5px;line-height:17.31px;color:#5e6a85;font-weight:400;font-style:normal;letter-spacing:0px;">by</div>
<div class="t" style="left:211.00px;top:886.87px;font-size:14.4px;line-height:16.08px;color:#55617c;font-weight:700;font-style:normal;letter-spacing:0px;">Leonardo Web S.r.l.</div>
<div class="t" style="left:950.50px;top:887.67px;font-size:14.4px;line-height:16.08px;color:#5e6a85;font-weight:400;font-style:normal;letter-spacing:0px;">LiPad</div>
<div class="t" style="left:1014.80px;top:887.12px;font-size:15px;line-height:16.75px;color:#5e6a85;font-weight:400;font-style:normal;letter-spacing:0px;">Documentazione</div>
<div class="t" style="left:1155.60px;top:887.12px;font-size:15px;line-height:16.75px;color:#5e6a85;font-weight:400;font-style:normal;letter-spacing:0px;">Supporto Remoto</div>
<div class="r" style="left:1905px;top:0px;width:15px;height:912px;background:#f8f8f8;border-radius:0px;border-left:1px solid #e6e6e6;"></div>
<div class="r" style="left:1909px;top:3px;width:8px;height:560px;background:#c1c1c1;border-radius:4px;"></div>
<div class="r" style="left:0px;top:0px;width:1920px;height:1px;background:#1e0038;border-radius:0px;"></div>
<div class="r" style="left:0px;top:1px;width:1px;height:61px;background:rgba(255,255,255,0.12);border-radius:0px;"></div>
<div class="r" style="left:0px;top:62px;width:1px;height:814px;background:rgba(255,255,255,0.35);border-radius:0px;"></div>
<div class="r" style="left:0px;top:903px;width:12px;height:9px;background:radial-gradient(circle at 11.6px 0, transparent 11.1px, #000 12.1px);border-radius:0px;"></div>
<div class="r" style="left:1908px;top:903px;width:12px;height:9px;background:radial-gradient(circle at 0.4px 0, transparent 11.1px, #000 12.1px);border-radius:0px;"></div>
</body></html>
